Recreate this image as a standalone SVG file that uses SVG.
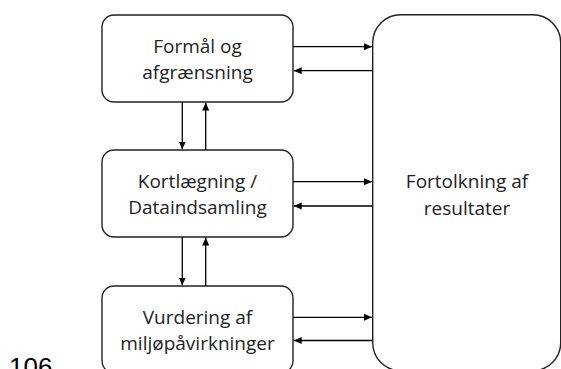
<svg xmlns="http://www.w3.org/2000/svg" width="561" height="369" viewBox="0 0 561 369">
<style>
.box{fill:#fff;stroke:#222;stroke-width:1.4}
.lbl{font-family:"Open Sans","Noto Sans",sans-serif;font-size:19px;fill:#222;text-anchor:middle}
.con line{stroke:#000;stroke-width:1.3;marker-end:url(#ah)}
</style>
<defs>
<marker id="ah" markerUnits="userSpaceOnUse" markerWidth="9" markerHeight="8" refX="8" refY="3.5" orient="auto">
<path d="M0,0 L8,3.5 L0,7 z" fill="#000"/>
</marker>
</defs>
<rect width="561" height="369" fill="#fff"/>
<g id="n-fortolkning">
<rect class="box" x="372.7" y="14.7" width="188" height="356" rx="28" ry="28"/>
<text class="lbl" x="467" y="188">Fortolkning af</text>
<text class="lbl" x="467" y="214.5">resultater</text>
</g>
<g id="n-formaal">
<rect class="box" x="102" y="15" width="191" height="87" rx="12" ry="12"/>
<text class="lbl" x="197.5" y="53.3">Formål og</text>
<text class="lbl" x="197.5" y="79.3">afgrænsning</text>
</g>
<g id="n-kortlaegning">
<rect class="box" x="102" y="150" width="191" height="87" rx="12" ry="12"/>
<text class="lbl" x="197.5" y="187.5">Kortlægning /</text>
<text class="lbl" x="197.5" y="213.5">Dataindsamling</text>
</g>
<g id="n-vurdering">
<rect class="box" x="102" y="286" width="191" height="87" rx="12" ry="12"/>
<text class="lbl" x="197.5" y="323.5">Vurdering af</text>
<text class="lbl" x="197.5" y="349.5">miljøpåvirkninger</text>
</g>
<g id="connectors" class="con">
<line x1="293" y1="46.7" x2="372" y2="46.7"/>
<line x1="372.7" y1="70.7" x2="293.7" y2="70.7"/>
<line x1="293" y1="181.7" x2="372" y2="181.7"/>
<line x1="372.7" y1="206" x2="293.7" y2="206"/>
<line x1="293" y1="317.3" x2="372" y2="317.3"/>
<line x1="372.7" y1="340.5" x2="293.7" y2="340.5"/>
<line x1="182.3" y1="102" x2="182.3" y2="149.5"/>
<line x1="205.7" y1="150" x2="205.7" y2="102.5"/>
<line x1="182.3" y1="237" x2="182.3" y2="285.5"/>
<line x1="205.7" y1="286" x2="205.7" y2="237.5"/>
</g>
<text x="9" y="376" font-family="'Liberation Sans',Arial,sans-serif" font-size="26" fill="#000">106</text>
</svg>
